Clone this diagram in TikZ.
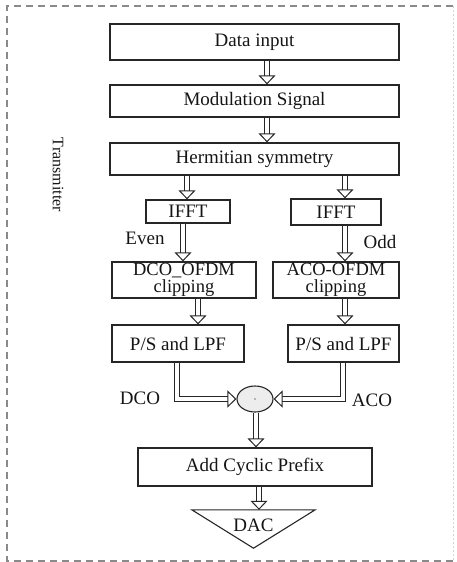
\documentclass[tikz,border=0pt]{standalone}
\usepackage{fontspec}
\setmainfont{Liberation Serif}
\usetikzlibrary{arrows.meta,calc,shapes.geometric}
\definecolor{ink}{HTML}{262626}
\definecolor{txt}{HTML}{151515}
\definecolor{frame}{HTML}{8A8A8A}
\begin{document}
\begin{tikzpicture}[x=1pt,y=-1pt,
  block/.style={draw=ink,line width=1.3pt,rectangle,inner sep=0pt,
    font=\fontsize{19}{21}\selectfont,text=txt,align=center},
  twoline/.style={font={\fontsize{18.5}{17}\selectfont\lineskiplimit=-20pt}},
  lbl/.style={font=\fontsize{19}{21}\selectfont,text=txt,inner sep=0pt},
  harrow/.style={draw=ink,line width=1pt,double=white,double distance=4pt,
    -{Triangle[open,width=17pt,length=9pt,line width=1pt]}},
]
\useasboundingbox (0,0) rectangle (457,562);
% outer dashed frame
\draw[frame,line width=1.6pt,dash pattern=on 7pt off 5pt] (453,6) -- (7,6) -- (7,561) -- (455,561);
\draw[frame!35,line width=1pt,dash pattern=on 2pt off 2pt] (453,6) -- (453,561);

\node[rotate=-90,font=\fontsize{16}{18}\selectfont,text=txt] (tx) at (58,175) {Transmitter};

% processing blocks
\node[block,minimum width=289pt,minimum height=36pt] (data) at (254.5,42) {Data input};
\node[block,minimum width=289pt,minimum height=32pt] (mod) at (254.5,101) {Modulation Signal};
\node[block,minimum width=289pt,minimum height=32pt] (herm) at (254.5,159) {Hermitian symmetry};
\node[block,minimum width=84pt,minimum height=23pt] (ifftL) at (188,211.5) {IFFT};
\node[block,minimum width=90pt,minimum height=26pt] (ifftR) at (336,212) {IFFT};
\node[block,twoline,minimum width=144pt,minimum height=36pt] (dco) at (184,280) {DCO\_OFDM\\clipping};
\node[block,twoline,minimum width=126pt,minimum height=36pt] (aco) at (336,280) {ACO-OFDM\\clipping};
\node[block,minimum width=132pt,minimum height=37pt] (psL) at (178,343.5) {P/S and LPF};
\node[block,minimum width=111pt,minimum height=37pt] (psR) at (343.5,343.5) {P/S and LPF};
\node[draw=ink,line width=1.1pt,ellipse,fill=black!7,minimum width=36pt,minimum height=26pt,inner sep=0pt] (sum) at (255,399) {};
\fill[ink!60] (sum.center) circle (0.8pt);
\node[block,minimum width=234pt,minimum height=38pt] (acp) at (255,467) {Add Cyclic Prefix};
\node[minimum width=123pt,minimum height=38pt,inner sep=0pt] (dac) at (253.5,529) {};
\draw[ink,line width=1.1pt,line join=miter] (dac.north west) -- (dac.north east) -- (dac.south) -- cycle;
\node[lbl] (daclbl) at (253.5,525) {DAC};

% branch labels
\node[lbl] (even) at (145,238) {Even};
\node[lbl] (odd) at (380,242) {Odd};
\node[lbl] (dcol) at (140,398) {DCO};
\node[lbl] (acol) at (372,400) {ACO};

% hollow flow arrows
\draw[harrow] ([xshift=12.5pt]data.south) -- ([xshift=12.5pt]mod.north);
\draw[harrow] ([xshift=12.5pt]mod.south) -- ([xshift=12.5pt]herm.north);
\draw[harrow] ([xshift=-1pt]ifftL.north |- herm.south) -- ([xshift=-1pt]ifftL.north);
\draw[harrow] ([xshift=9pt]ifftR.north |- herm.south) -- ([xshift=9pt]ifftR.north);
\draw[harrow] ([xshift=-5pt]ifftL.south) -- ([xshift=-5pt]ifftL.south |- dco.north);
\draw[harrow] ([xshift=9pt]ifftR.south) -- ([xshift=9pt]ifftR.south |- aco.north);
\draw[harrow] ([xshift=14pt]dco.south) -- ([xshift=14pt]dco.south |- psL.north);
\draw[harrow] ([xshift=9pt]aco.south) -- ([xshift=9pt]aco.south |- psR.north);
\draw[harrow] ([xshift=-1pt]psL.south) |- (sum.west);
\draw[harrow] ([xshift=-0.5pt]psR.south) |- (sum.east);
\draw[harrow] ([xshift=1pt]sum.south) -- ([xshift=1pt]sum.south |- acp.north);
\draw[harrow] ([xshift=4pt]acp.south) -- ([xshift=4pt]acp.south |- dac.north);
\end{tikzpicture}
\end{document}
